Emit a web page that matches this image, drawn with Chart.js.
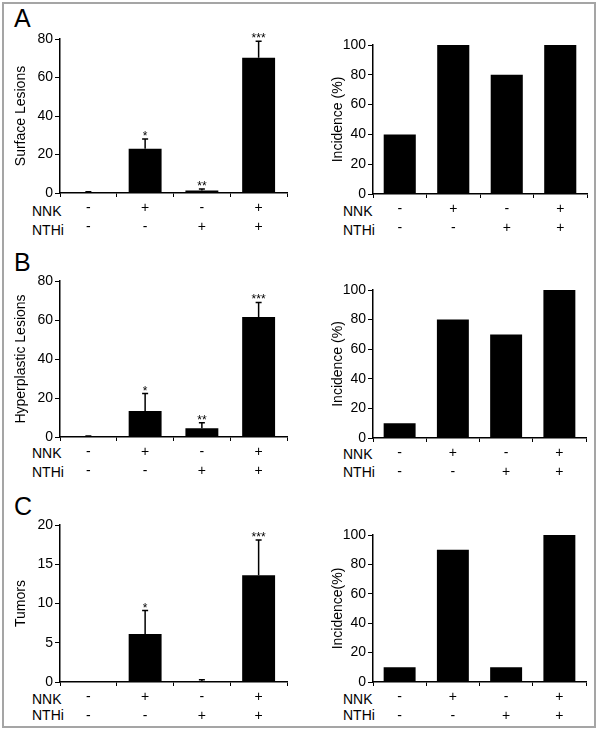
<!DOCTYPE html>
<html>
<head>
<meta charset="utf-8">
<script src="https://cdn.jsdelivr.net/npm/chart.js@4"></script>
<style>
  body { margin: 0; background: #fff; overflow: hidden; }
  #wrap { position: relative; width: 600px; height: 729px; font-family: "Liberation Sans", Arial, sans-serif; }
  #frame { position: absolute; left: 2px; top: 2px; width: 590px; height: 722px; border: 2px solid #a5a5a5; }
  canvas { position: absolute; }
  .letter { position: absolute; font-size: 25px; color: #000; line-height: 1; }
  .row { position: absolute; font-size: 14px; color: #000; line-height: 1; transform: translateY(-50%); }
</style>
</head>
<body>
<div id="wrap">
  <div id="frame"></div>
  <div class="letter" style="left:14px;top:6px">A</div>
  <div class="letter" style="left:14px;top:250px">B</div>
  <div class="letter" style="left:14px;top:494px">C</div>

  <div class="row" style="left:32px;top:211px">NNK</div>
  <div class="row" style="left:32px;top:230px">NTHi</div>
  <div class="row" style="left:343px;top:211px">NNK</div>
  <div class="row" style="left:343px;top:230px">NTHi</div>
  <div class="row" style="left:32px;top:453px">NNK</div>
  <div class="row" style="left:32px;top:472px">NTHi</div>
  <div class="row" style="left:343px;top:454px">NNK</div>
  <div class="row" style="left:343px;top:472px">NTHi</div>
  <div class="row" style="left:32px;top:699px">NNK</div>
  <div class="row" style="left:32px;top:715px">NTHi</div>
  <div class="row" style="left:343px;top:699px">NNK</div>
  <div class="row" style="left:343px;top:715px">NTHi</div>

  <canvas id="aL" width="287" height="219" style="left:10px;top:24px"></canvas>
  <canvas id="aR" width="270" height="214" style="left:327px;top:30px"></canvas>
  <canvas id="bL" width="287" height="221" style="left:10px;top:266px"></canvas>
  <canvas id="bR" width="269" height="213" style="left:327px;top:275px"></canvas>
  <canvas id="cL" width="287" height="217" style="left:10px;top:510px"></canvas>
  <canvas id="cR" width="269" height="207" style="left:327px;top:520px"></canvas>
</div>

<script>
// NNK / NTHi treatment groups (top line NNK, bottom line NTHi)
var groups = [['-', '-'], ['+', '-'], ['-', '+'], ['+', '+']];

// A: surface lesions
var surfaceMean = [0.2, 23, 1.3, 70.3];
var surfaceErr = [0.5, 5, 0.8, 8.5];
var surfaceStars = ['', '*', '**', '***'];
var surfaceIncidence = [40, 100, 80, 100];

// B: hyperplastic lesions
var hyperMean = [0.2, 13.3, 4.5, 61.6];
var hyperErr = [0.3, 9, 2.8, 7.4];
var hyperStars = ['', '*', '**', '***'];
var hyperIncidence = [10, 80, 70, 100];

// C: tumors
var tumorMean = [0, 6.1, 0.1, 13.6];
var tumorErr = [0, 3, 0.2, 4.5];
var tumorStars = ['', '*', '', '***'];
var tumorIncidence = [10, 90, 10, 100];

var errorBars = {
    id: 'errorBars',
    afterDatasetsDraw: function(chart, args, opts) {
        if (!opts.err) return;
        var ctx = chart.ctx;
        var y = chart.scales.y;
        var vals = chart.data.datasets[0].data;
        chart.getDatasetMeta(0).data.forEach(function(bar, i) {
            var e = opts.err[i];
            var top = y.getPixelForValue(vals[i] + e);
            ctx.save();
            if (e > 0) {
                ctx.strokeStyle = '#000';
                ctx.lineWidth = 1.5;
                ctx.beginPath();
                ctx.moveTo(bar.x, bar.y);
                ctx.lineTo(bar.x, top);
                ctx.moveTo(bar.x - 3, top);
                ctx.lineTo(bar.x + 3, top);
                ctx.stroke();
            }
            if (opts.stars && opts.stars[i]) {
                ctx.fillStyle = '#000';
                ctx.font = '12px "Liberation Sans", Arial, sans-serif';
                ctx.textAlign = 'center';
                ctx.textBaseline = 'alphabetic';
                ctx.fillText(opts.stars[i], bar.x, top + 1);
            }
            ctx.restore();
        });
    }
};

function makeChart(id, values, yMax, step, title, yWidth, xHeight, barPct, err, stars) {
    var fam = '"Liberation Sans", Arial, sans-serif';
    return new Chart(document.getElementById(id), {
        type: 'bar',
        data: {
            labels: groups,
            datasets: [{
                data: values,
                backgroundColor: '#000',
                borderWidth: 0,
                barPercentage: barPct,
                categoryPercentage: 1
            }]
        },
        options: {
            responsive: false,
            animation: false,
            layout: { padding: { top: 15, right: 10, left: 0, bottom: 0 } },
            plugins: {
                legend: { display: false },
                tooltip: { enabled: false },
                errorBars: { err: err, stars: stars }
            },
            scales: {
                x: {
                    grid: { display: true, drawOnChartArea: false, drawTicks: true, tickLength: 4, offset: true, color: '#000', lineWidth: 1 },
                    border: { color: '#000', width: 1.5 },
                    ticks: { font: { family: fam, size: 14, lineHeight: 1.36 }, color: '#000', padding: 2, autoSkip: false, maxRotation: 0 },
                    afterFit: function(s) { s.height = xHeight; }
                },
                y: {
                    min: 0,
                    max: yMax,
                    ticks: { stepSize: step, font: { family: fam, size: 14 }, color: '#000', padding: 2 },
                    grid: { drawOnChartArea: false, tickLength: 5, color: '#000' },
                    border: { color: '#000', width: 1.5 },
                    title: { display: true, text: title, color: '#000', font: { family: fam, size: 14 }, padding: 3 },
                    afterFit: function(s) { s.width = yWidth; }
                }
            }
        },
        plugins: [errorBars]
    });
}

makeChart('aL', surfaceMean, 80, 20, 'Surface Lesions', 50, 50, 0.58, surfaceErr, surfaceStars);
makeChart('aR', surfaceIncidence, 100, 20, 'Incidence (%)', 46, 50, 0.6);
makeChart('bL', hyperMean, 80, 20, 'Hyperplastic Lesions', 50, 50, 0.58, hyperErr, hyperStars);
makeChart('bR', hyperIncidence, 100, 20, 'Incidence (%)', 46, 50, 0.6);
makeChart('cL', tumorMean, 20, 5, 'Tumors', 50, 45, 0.58, tumorErr, tumorStars);
makeChart('cR', tumorIncidence, 100, 20, 'Incidence(%)', 46, 45, 0.6);
</script>
</body>
</html>
